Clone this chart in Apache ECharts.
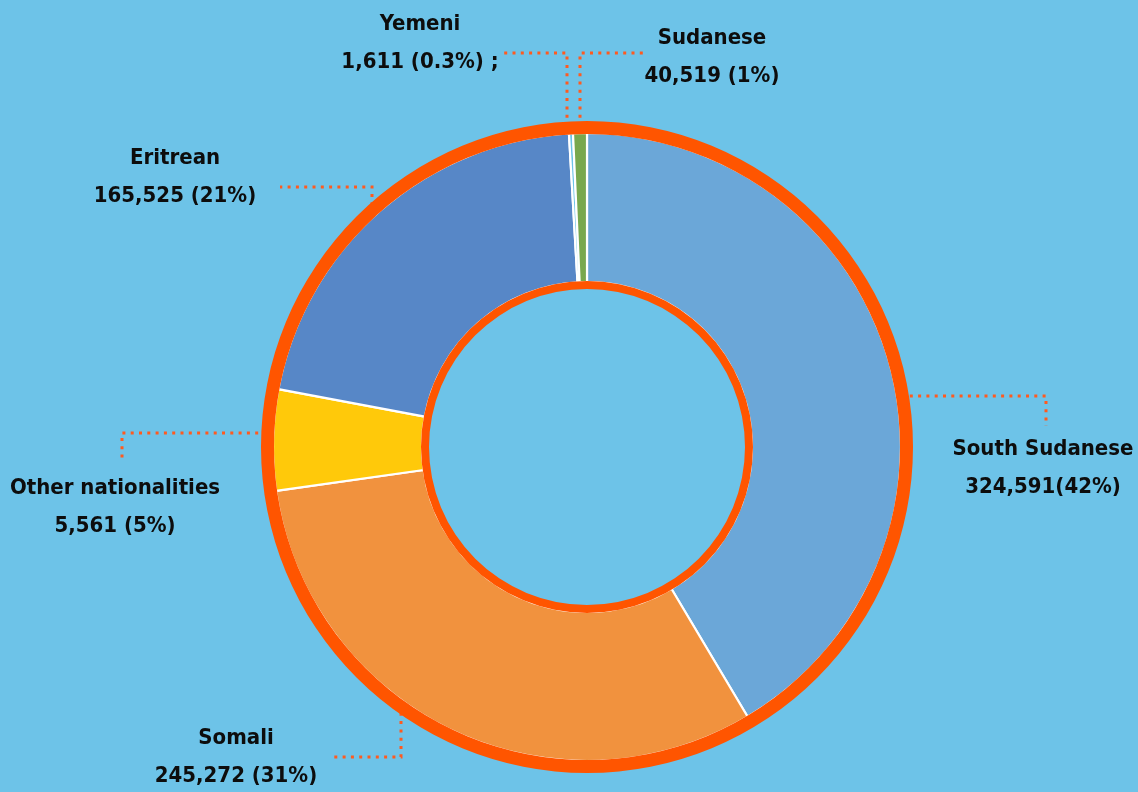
<!DOCTYPE html>
<html>
<head>
<meta charset="utf-8">
<script src="https://cdn.jsdelivr.net/npm/echarts@6/dist/echarts.min.js"></script>
<style>
  html, body { margin: 0; padding: 0; background: #6DC3E8; }
  #chart { width: 1138px; height: 792px; }
</style>
</head>
<body>
<div id="chart"></div>
<script>
// slices, clockwise from 12 o'clock
var names = ['South Sudanese', 'Somali', 'Other nationalities', 'Eritrean', 'Yemeni', 'Sudanese'];
// slice sizes as drawn (the picture draws "Other" ~5% and "Sudanese" ~1%)
var sliceValues = [324591, 245272, 40519, 165525, 1611, 5561];
// texts printed under each name
var valueTexts = ['324,591(42%)', '245,272 (31%)', '5,561 (5%)', '165,525 (21%)', '1,611 (0.3%) ;', '40,519 (1%)'];
var colors = ['#6BA7D8', '#F1923E', '#FFC90A', '#5787C7', '#6DC3E8', '#78A84E'];

// label placement: block centre and elbow leader line
var labelPos = [
    {x: 1043, y: 468, line: [[860, 396], [1046, 396], [1046, 426]]},
    {x: 236, y: 757, line: [[401, 663], [401, 757], [333, 757]]},
    {x: 115, y: 507, line: [[308, 433], [122, 433], [122, 462]]},
    {x: 175, y: 177, line: [[372, 255], [372, 187], [280, 187]]},
    {x: 420, y: 43, line: [[567, 126], [567, 53], [500, 53]]},
    {x: 712, y: 57, line: [[580, 126], [580, 53], [648, 53]]}
];

var myChart = echarts.init(document.getElementById('chart'));

var pieData = [];
for (var i = 0; i < names.length; i++) {
    pieData.push({value: sliceValues[i], name: names[i], itemStyle: {color: colors[i]}});
}

var option = {
    backgroundColor: '#6DC3E8',
    animation: false,
    series: [
        {
            type: 'pie',
            z: 2,
            center: [587, 447],
            radius: [165, 314],
            startAngle: 90,
            clockwise: true,
            avoidLabelOverlap: false,
            silent: true,
            itemStyle: {
                borderColor: '#ffffff',
                borderWidth: 2.2
            },
            label: {
                show: true,
                position: 'outside',
                color: '#0d0d0d',
                fontFamily: 'DejaVu Sans Condensed',
                fontWeight: 'bold',
                fontSize: 22,
                lineHeight: 38,
                align: 'center',
                formatter: function (p) {
                    return p.name + '\n' + valueTexts[p.dataIndex];
                }
            },
            labelLine: {
                show: true,
                lineStyle: {
                    color: '#FF5A1F',
                    width: 3,
                    type: [3, 5.3]
                }
            },
            labelLayout: function (params) {
                var l = labelPos[params.dataIndex];
                return {
                    x: l.x,
                    y: l.y,
                    align: 'center',
                    verticalAlign: 'middle',
                    labelLinePoints: l.line
                };
            },
            data: pieData
        },
        { // outer orange ring
            type: 'pie',
            z: 3,
            silent: true,
            center: [587, 447],
            radius: [313, 326],
            label: {show: false},
            labelLine: {show: false},
            itemStyle: {color: '#FF5500'},
            data: [{value: 1, name: 'outer'}]
        },
        { // inner orange ring
            type: 'pie',
            z: 3,
            silent: true,
            center: [587, 447],
            radius: [158, 166],
            label: {show: false},
            labelLine: {show: false},
            itemStyle: {color: '#FF5500'},
            data: [{value: 1, name: 'inner'}]
        }
    ]
};
myChart.setOption(option);
</script>
</body>
</html>
